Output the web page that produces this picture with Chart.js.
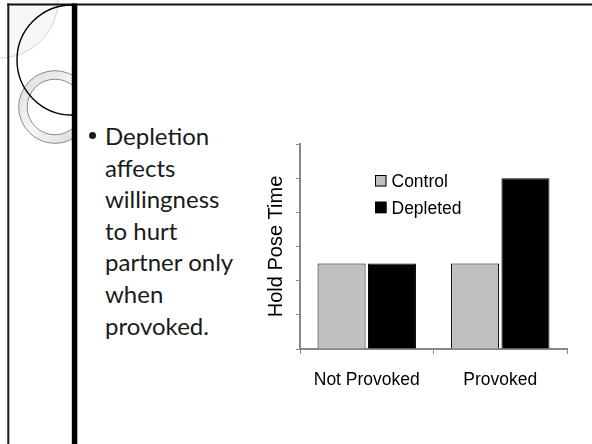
<!DOCTYPE html>
<html>
<head>
<meta charset="utf-8">
<script src="https://cdn.jsdelivr.net/npm/chart.js@4/dist/chart.umd.min.js"></script>
<style>
  html, body { margin: 0; padding: 0; background: #fff; }
  #stage { position: relative; width: 592px; height: 444px; overflow: hidden; background: #fff; }
  #deco { position: absolute; left: 0; top: 0; }
  #chart { position: absolute; left: 0; top: 0; }
  #bullet { position: absolute; left: 105px; top: 120px; font-family: Lato, "Open Sans", sans-serif;
            font-size: 24px; line-height: 31.6px; color: #1a1a1a; white-space: nowrap; }
  #bullet .dot { position: absolute; left: -16px; top: 12px; width: 7px; height: 7px; border-radius: 50%; background: #1a1a1a; }
</style>
</head>
<body>
<div id="stage">
  <svg id="deco" width="592" height="444" viewBox="0 0 592 444">
    <defs>
      <clipPath id="leftClip"><rect x="0" y="0" width="72" height="444"/></clipPath>
      <linearGradient id="ringGrad" x1="0" y1="0" x2="1" y2="1">
        <stop offset="0" stop-color="#dcdcdc"/>
        <stop offset="0.5" stop-color="#f6f6f6"/>
        <stop offset="1" stop-color="#d4d4d4"/>
      </linearGradient>
    </defs>
    <g clip-path="url(#leftClip)">
      <path d="M 8 0 L 58 0 A 58 58 0 0 1 8 57.4 Z" fill="#f7f7f7" stroke="none"/>
      <circle cx="0" cy="0" r="58" fill="none" stroke="#c8c8c8" stroke-width="0.8"/>
      <path d="M 55 107 m -36.3 0 a 36.3 36.3 0 1 0 72.6 0 a 36.3 36.3 0 1 0 -72.6 0 Z M 55 107 m -27.8 0 a 27.8 27.8 0 1 1 55.6 0 a 27.8 27.8 0 1 1 -55.6 0 Z"
            fill="url(#ringGrad)" fill-rule="evenodd" stroke="#8a8a8a" stroke-width="1"/>
      <circle cx="72" cy="60" r="55" fill="none" stroke="#000" stroke-width="1.4"/>
    </g>
    <line x1="8.3" y1="3.5" x2="8.3" y2="444" stroke="#1a1a1a" stroke-width="2"/>
    <line x1="7.3" y1="4.5" x2="592" y2="4.5" stroke="#111" stroke-width="2.2"/>
    <rect x="71.8" y="3.5" width="5.5" height="441" fill="#000"/>
  </svg>
  <div id="bullet"><span class="dot"></span>Depletion<br>affects<br>willingness<br>to hurt<br>partner only<br>when<br>provoked.</div>
  <canvas id="chart" width="592" height="444"></canvas>
</div>
<script>
// ---- data ----
const categories = ["Not Provoked", "Provoked"];
const seriesNames = ["Control", "Depleted"];
const controlValues = [2.5, 2.5];
const depletedValues = [2.5, 5];
const yAxisTitle = "Hold Pose Time";
const yMax = 6;

const insideLegend = {
  id: 'insideLegend',
  afterDatasetsDraw(chart) {
    const { ctx, chartArea } = chart;
    const bx = chartArea.left + 75;
    const by0 = chartArea.top + 31;
    ctx.save();
    chart.data.datasets.forEach((ds, i) => {
      const y = by0 + i * 26.7;
      ctx.fillStyle = ds.backgroundColor;
      ctx.fillRect(bx, y, 11.5, 11.5);
      ctx.strokeStyle = '#000';
      ctx.lineWidth = 1;
      ctx.strokeRect(bx + 0.5, y + 0.5, 10.5, 10.5);
      ctx.fillStyle = '#000';
      ctx.font = '17.5px "Liberation Sans", Arial, sans-serif';
      ctx.textBaseline = 'alphabetic';
      ctx.textAlign = 'left';
      ctx.fillText(ds.label, bx + 16.5, y + 12);
    });
    ctx.restore();
  }
};

new Chart(document.getElementById('chart'), {
  type: 'bar',
  data: {
    labels: categories,
    datasets: [
      { label: seriesNames[0], data: controlValues, backgroundColor: '#c0c0c0', borderColor: '#000', borderWidth: 1,
        categoryPercentage: 0.755, barPercentage: 0.953 },
      { label: seriesNames[1], data: depletedValues, backgroundColor: '#000000', borderColor: '#000', borderWidth: 1,
        categoryPercentage: 0.755, barPercentage: 0.953 }
    ]
  },
  options: {
    responsive: false,
    animation: false,
    devicePixelRatio: 1,
    layout: { padding: { left: 264, top: 144, right: 25, bottom: 37 } },
    plugins: { legend: { display: false }, tooltip: { enabled: false }, title: { display: false } },
    scales: {
      x: {
        grid: { display: true, drawOnChartArea: false, drawTicks: true, tickLength: 5, color: '#888', offset: true },
        border: { display: true, color: '#888', width: 2 },
        ticks: { color: '#000', padding: 16, font: { family: '"Liberation Sans", Arial, sans-serif', size: 17.5 } }
      },
      y: {
        min: 0, max: yMax,
        grid: { display: true, drawOnChartArea: false, drawTicks: true, tickLength: 4, color: '#888' },
        border: { display: true, color: '#888', width: 2 },
        ticks: { display: false, stepSize: 1 },
        title: { display: true, text: yAxisTitle, color: '#000', padding: { top: 0, bottom: 8 },
                 font: { family: '"Liberation Sans", Arial, sans-serif', size: 20 } }
      }
    }
  },
  plugins: [insideLegend]
});
</script>
</body>
</html>
